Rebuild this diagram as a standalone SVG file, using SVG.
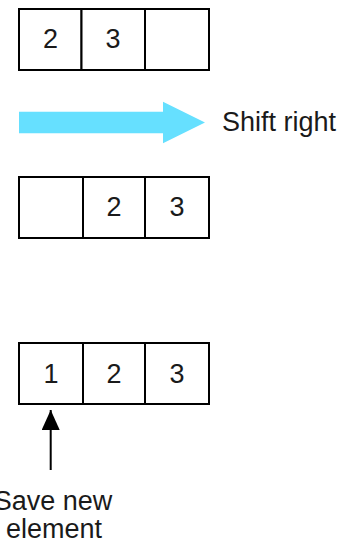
<svg xmlns="http://www.w3.org/2000/svg" width="345" height="542" viewBox="0 0 345 542">
<defs>
<style>
.cell{fill:#fff;stroke:#000;stroke-width:2}
.t{font-family:"Liberation Sans",Arial,sans-serif;font-size:27px;fill:#1a1a1a;text-anchor:middle}
.lbl{font-family:"Liberation Sans",Arial,sans-serif;font-size:27px;fill:#1a1a1a}
</style>
<marker id="ah" viewBox="0 0 20 18" refX="20" refY="9" markerWidth="20" markerHeight="18" markerUnits="userSpaceOnUse" orient="auto">
<path d="M0,0 L20,9 L0,18 Z" fill="#000"/>
</marker>
</defs>
<rect width="345" height="542" fill="#fff"/>
<g id="row1">
<g id="r1c1"><rect class="cell" x="19" y="9" width="62.5" height="61"/><text class="t" x="50.5" y="48">2</text></g>
<g id="r1c2"><rect class="cell" x="81.5" y="9" width="63.5" height="61"/><text class="t" x="113" y="48">3</text></g>
<g id="r1c3"><rect class="cell" x="145" y="9" width="64" height="61"/></g>
</g>
<g id="row2">
<g id="r2c1"><rect class="cell" x="19" y="177" width="64" height="61"/></g>
<g id="r2c2"><rect class="cell" x="83" y="177" width="62" height="61"/><text class="t" x="114" y="216">2</text></g>
<g id="r2c3"><rect class="cell" x="145" y="177" width="64" height="61"/><text class="t" x="177" y="216">3</text></g>
</g>
<g id="row3">
<g id="r3c1"><rect class="cell" x="19" y="343" width="64" height="61"/><text class="t" x="51" y="382.5">1</text></g>
<g id="r3c2"><rect class="cell" x="83" y="343" width="62" height="61"/><text class="t" x="114" y="382.5">2</text></g>
<g id="r3c3"><rect class="cell" x="145" y="343" width="64" height="61"/><text class="t" x="177" y="382.5">3</text></g>
</g>
<g id="label-shift"><text class="lbl" x="222" y="131">Shift right</text></g>
<g id="label-save"><text class="t" x="53" y="510">Save new</text><text class="t" x="54" y="538">element</text></g>
<g id="connectors">
<path d="M19,111.7 L163,111.7 L163,101.7 L205,122.5 L163,143.3 L163,133.3 L19,133.3 Z" fill="#66e0ff"/>
<line x1="50.7" y1="470" x2="50.7" y2="410" stroke="#000" stroke-width="2" marker-end="url(#ah)"/>
</g>
</svg>
